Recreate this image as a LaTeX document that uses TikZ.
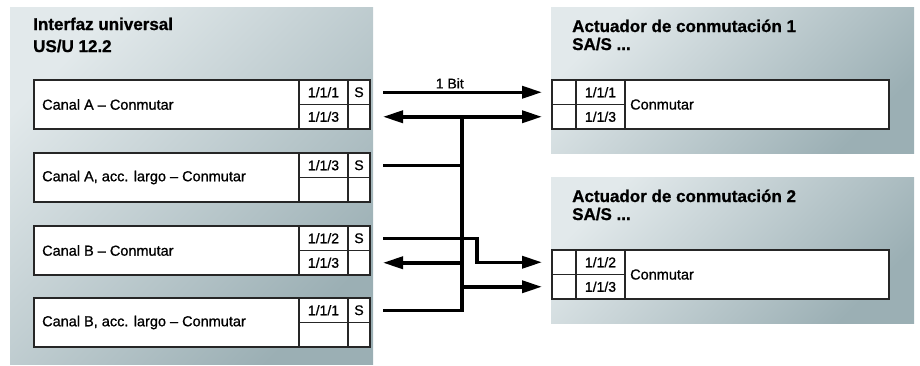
\documentclass[tikz,border=0pt]{standalone}
\usepackage{fontspec}
\setmainfont{Liberation Sans}
\newfontfamily\medfont{Liberation Sans}[FakeBold=0.9]
\newfontfamily\heavyfont{Liberation Sans Bold}[FakeBold=0.9]
\usetikzlibrary{arrows.meta,calc}
\definecolor{panelA}{HTML}{E2E9EB}
\definecolor{panelB}{HTML}{9BAFB4}
\definecolor{edge}{HTML}{262626}
\tikzset{
  panel/.style={top color=panelA, bottom color=panelB, shading angle=45},
  cell/.style={draw=edge, line width=1.3pt, fill=white, inner sep=0pt, outer sep=0pt,
    font=\medfont\fontsize{14}{16}\selectfont},
  txt/.style={inner sep=0pt, font=\medfont\fontsize{14.5}{17}\selectfont},
  ttl/.style={inner sep=0pt, anchor=base west, font=\heavyfont\fontsize{17}{20}\selectfont},
  conn/.style={line width=3.5pt, line join=miter, draw=black},
  tip/.style={-{Triangle[length=20pt,width=12pt]}},
  dtip/.style={{Triangle[length=20pt,width=12pt]}-{Triangle[length=20pt,width=12pt]}},
}
\newcommand\leftrow[6]{%
  \node[cell, minimum width=265pt, minimum height=49pt, anchor=north west] (#1) at (34,#2) {};
  \node[txt, anchor=west] (#1t) at ([xshift=8pt]#1.west) {#3};
  \node[cell, minimum width=49pt, minimum height=24.5pt, anchor=north west] (#1a) at (#1.north east) {#4};
  \node[cell, minimum width=49pt, minimum height=24.5pt, anchor=north west] (#1b) at (#1a.south west) {#6};
  \node[cell, minimum width=22pt, minimum height=24.5pt, anchor=north west] (#1s) at (#1a.north east) {#5};
  \node[cell, minimum width=22pt, minimum height=24.5pt, anchor=north west] (#1e) at (#1s.south west) {};
}
\newcommand\rightrow[4]{%
  \node[cell, minimum width=24pt, minimum height=24.5pt, anchor=north west] (#1x) at (552,#2) {};
  \node[cell, minimum width=24pt, minimum height=24.5pt, anchor=north west] (#1y) at (#1x.south west) {};
  \node[cell, minimum width=49pt, minimum height=24.5pt, anchor=north west] (#1a) at (#1x.north east) {#3};
  \node[cell, minimum width=49pt, minimum height=24.5pt, anchor=north west] (#1b) at (#1a.south west) {#4};
  \node[cell, minimum width=264pt, minimum height=49pt, anchor=north west] (#1) at (#1a.north east) {};
  \node[txt, anchor=west] (#1t) at ([xshift=5pt]#1.west) {Conmutar};
}
\begin{document}
\begin{tikzpicture}[x=1pt, y=-1pt]
\useasboundingbox (0,0) rectangle (920,365);
% panels
\shade[panel] (10,7) rectangle (373,364);
\shade[panel] (551,7) rectangle (914,153);
\shade[panel] (551,177) rectangle (914,323);
% titles
\node[ttl] (t1) at (33,30) {Interfaz universal};
\node[ttl] (t2) at (33,52) {US/U 12.2};
\node[ttl] (p1) at (572,32) {Actuador de conmutación 1};
\node[ttl] (p2) at (572,50) {SA/S ...};
\node[ttl] (q1) at (572,202) {Actuador de conmutación 2};
\node[ttl] (q2) at (572,220) {SA/S ...};
% left rows
\leftrow{A}{80}{Canal A – Conmutar}{1/1/1}{S}{1/1/3}
\leftrow{B}{153}{Canal A, acc. largo – Conmutar}{1/1/3}{S}{}
\leftrow{C}{226}{Canal B – Conmutar}{1/1/2}{S}{1/1/3}
\leftrow{D}{298}{Canal B, acc. largo – Conmutar}{1/1/1}{S}{}
% right rows
\rightrow{P}{80}{1/1/1}{1/1/3}
\rightrow{Q}{250}{1/1/2}{1/1/3}
% connector ends
\coordinate (s1) at ([xshift=13pt]As.east);
\coordinate (s2) at ([xshift=13pt]Ae.east);
\coordinate (s3) at ([xshift=13pt]Bs.east);
\coordinate (s4) at ([xshift=13pt]Cs.east);
\coordinate (s5) at ([xshift=13pt]Ce.east);
\coordinate (s7) at ([xshift=13pt]Ds.east);
\coordinate (e1) at ([xshift=-10pt]Px.west);
\coordinate (e2) at ([xshift=-10pt]Py.west);
\coordinate (e4) at ([xshift=-10pt]Qx.west);
\coordinate (e6) at ([xshift=-10pt]Qy.west);
\coordinate (bt) at ([xshift=79pt]s2);
% connectors
\draw[conn, tip] (s1) -- (e1) node[pos=0.42, above=2pt, inner sep=0pt, font=\medfont\fontsize{14}{16}\selectfont] (bit) {1 Bit};
\draw[conn, dtip] (s2) -- (e2);
\draw[conn] (s7) -| (bt);
\draw[conn] (s3) -- (s3 -| bt);
\draw[conn, tip] (s4) -- ++(94pt,0) |- (e4);
\draw[conn, tip] (s5 -| bt) -- (s5);
\draw[conn, tip] (e6 -| bt) -- (e6);
\end{tikzpicture}
\end{document}
